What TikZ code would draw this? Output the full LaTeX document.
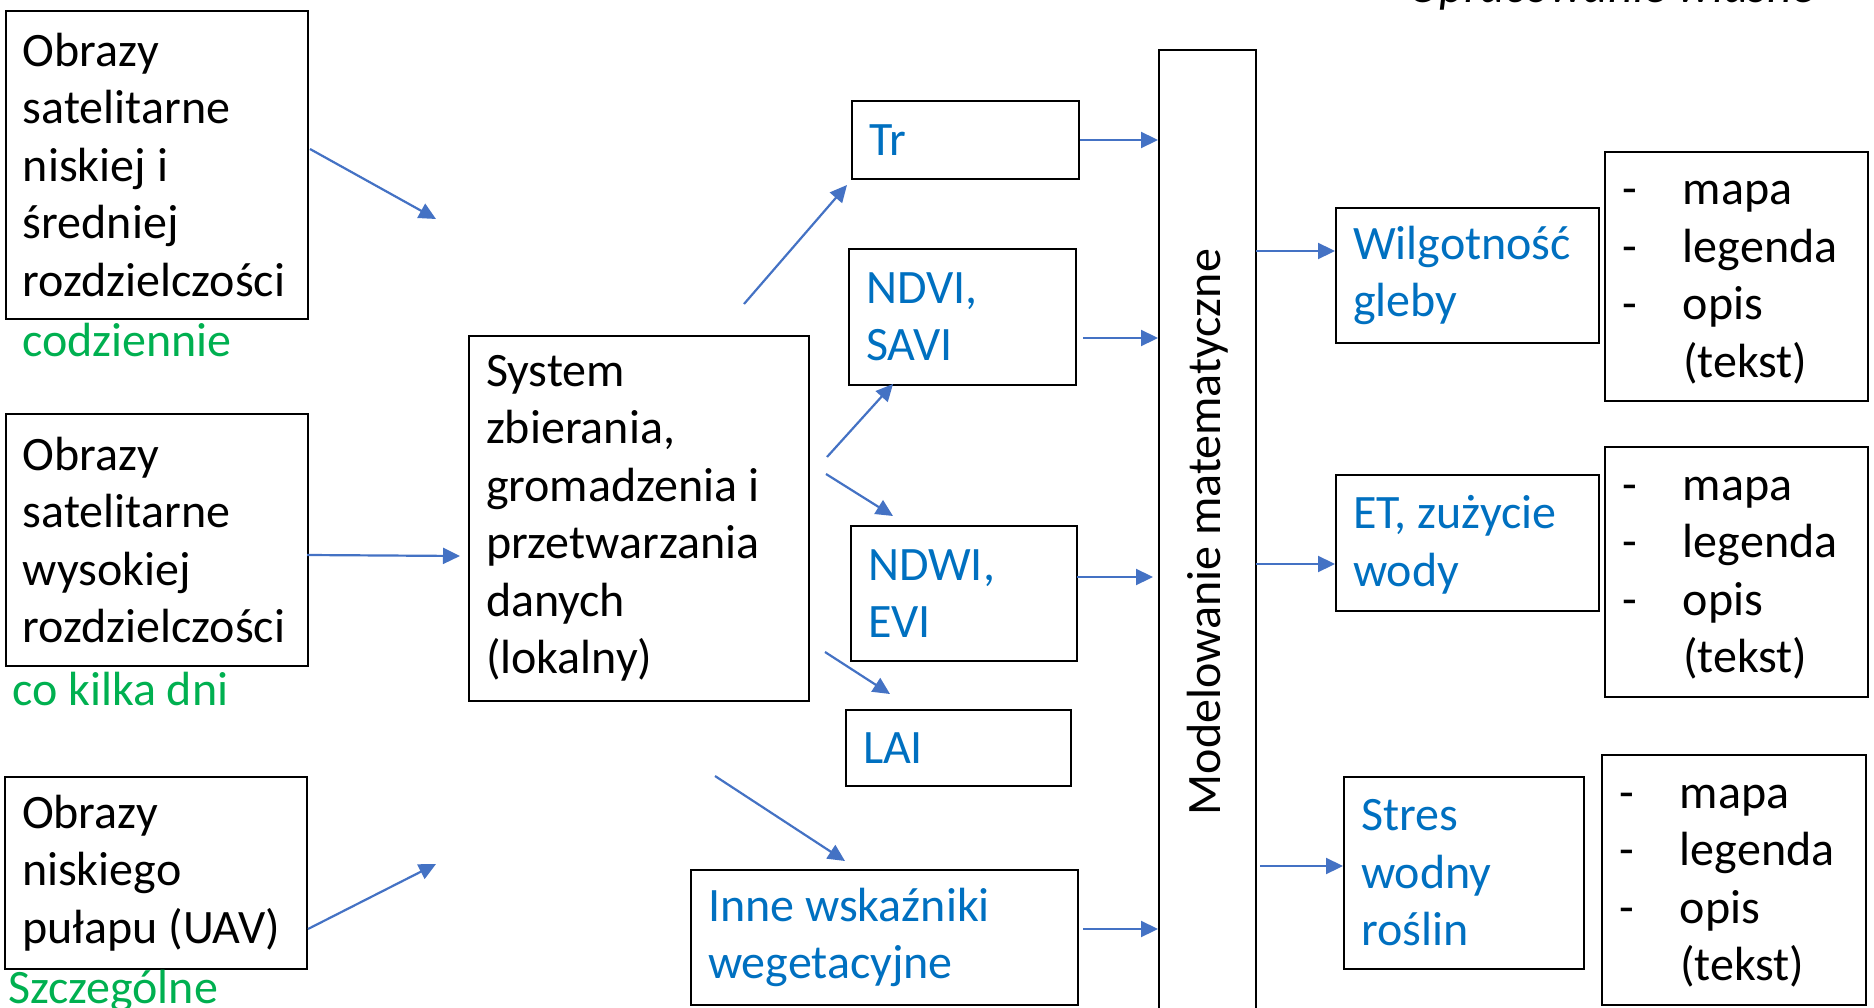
\documentclass[tikz,border=0pt]{standalone}
\usepackage{fontspec}
\setmainfont{Carlito}
\usetikzlibrary{arrows.meta}
\definecolor{txtblue}{HTML}{0070C0}
\definecolor{txtgreen}{HTML}{00B050}
\definecolor{arrblue}{HTML}{4472C4}
\newcommand{\lstitem}[1]{\makebox[61pt][l]{-}#1}
\newcommand{\lstcont}[1]{\hspace*{61pt}#1}

\begin{document}
\begin{tikzpicture}[x=1pt,y=-1pt,
    box/.style = {draw, line width=2pt, anchor=north west, align=flush left, inner xsep=17pt, inner ysep=0pt, font=\fontsize{48}{57.5}\selectfont},
    ind/.style = {box, text=txtblue},
    lst/.style = {box, text width=229pt, text height=36pt},
    note/.style = {anchor=base west, inner sep=0pt, text=txtgreen, font=\fontsize{48}{57.5}\selectfont},
    arr/.style = {-{Triangle[length=17pt,width=16pt]}, draw=arrblue, line width=2.2pt}]
    \useasboundingbox (0,0) rectangle (1874,1008);
    % sources
    \node[box, text width=268pt, minimum height=308pt] (sat1) at (5,10) {Obrazy\\satelitarne\\niskiej i\\średniej\\rozdzielczości};
    \node[box, text width=268pt, minimum height=252pt] (sat2) at (5,413) {Obrazy\\satelitarne\\wysokiej\\rozdzielczości};
    \node[box, text width=268pt, minimum height=192pt] (uav) at (4,776) {Obrazy\\niskiego\\pułapu (UAV)};
    \node[note] (n1) at (22,356) {codziennie};
    \node[note] (n2) at (12,705) {co kilka dni};
    \node[note] (n3) at (8,1003) {Szczególne};
    \node[box, text width=306pt, minimum height=365pt] (sys) at (468,335) {System\\zbierania,\\gromadzenia i\\przetwarzania\\danych\\(lokalny)};
    % indices
    \node[ind, text width=193pt, minimum height=78pt] (tr) at (851,100) {Tr};
    \node[ind, text width=193pt, minimum height=136pt] (ndvi) at (848,248) {NDVI,\\SAVI};
    \node[ind, text width=192pt, minimum height=135pt] (ndwi) at (850,525) {NDWI,\\EVI};
    \node[ind, text width=191pt, minimum height=76pt] (lai) at (845,709) {LAI};
    \node[ind, text width=353pt, minimum height=135pt] (inne) at (690,869) {Inne wskaźniki\\wegetacyjne};
    \node[box, minimum width=97pt, minimum height=964pt, inner xsep=0pt] (model) at (1158,49) {\rotatebox{90}{Modelowanie matematyczne}};
    % results
    \node[ind, text width=229pt, minimum height=135pt] (wilg) at (1335,207) {Wilgotność\\gleby};
    \node[ind, text width=229pt, minimum height=136pt, text height=37pt] (et) at (1335,474) {ET, zużycie\\wody};
    \node[ind, text width=206pt, minimum height=192pt] (stres) at (1343,776) {Stres\\wodny\\roślin};
    \node[lst, minimum height=249pt] (out1) at (1604,151) {\lstitem{mapa}\\\lstitem{legenda}\\\lstitem{opis}\\\lstcont{(tekst)}};
    \node[lst, minimum height=250pt] (out2) at (1604,446) {\lstitem{mapa}\\\lstitem{legenda}\\\lstitem{opis}\\\lstcont{(tekst)}};
    \node[lst, minimum height=250pt, text width=230pt] (out3) at (1601,754) {\lstitem{mapa}\\\lstitem{legenda}\\\lstitem{opis}\\\lstcont{(tekst)}};
    \node[anchor=base west, inner sep=0pt, font=\fontsize{48}{57.5}\selectfont\itshape] (src) at (1408,3) {Opracowanie własne};
    % free arrow ends
    \coordinate (a1) at (310,149);  \coordinate (a2) at (436,219);
    \coordinate (b1) at (307,555);  \coordinate (b2) at (460,556);
    \coordinate (c1) at (308,929);  \coordinate (c2) at (436,864);
    \coordinate (d1) at (744,304);  \coordinate (d2) at (847,185);
    \coordinate (e1) at (827,457);  \coordinate (e2) at (893,384);
    \coordinate (f1) at (826,474);  \coordinate (f2) at (893,516);
    \coordinate (g1) at (825,652);  \coordinate (g2) at (890,694);
    \coordinate (h1) at (715,776);  \coordinate (h2) at (845,861);
    \coordinate (k1) at (1083,338);
    \coordinate (k2) at (1077,577);
    \coordinate (k3) at (1083,929);
    \coordinate (m1) at (1256,251);
    \coordinate (m2) at (1256,564);
    \coordinate (m3) at (1260,866);
    \draw[arr] (a1) -- (a2);
    \draw[arr] (b1) -- (b2);
    \draw[arr] (c1) -- (c2);
    \draw[arr] (d1) -- (d2);
    \draw[arr] (e1) -- (e2);
    \draw[arr] (f1) -- (f2);
    \draw[arr] (g1) -- (g2);
    \draw[arr] (h1) -- (h2);
    \draw[arr] (tr.east) -- (tr.east -| model.west);
    \draw[arr] (k1) -- (k1 -| model.west);
    \draw[arr] (k2) -- ([xshift=-5pt]k2 -| model.west);
    \draw[arr] (k3) -- (k3 -| model.west);
    \draw[arr] (m1) -- (m1 -| wilg.west);
    \draw[arr] (m2) -- (m2 -| et.west);
    \draw[arr] (m3) -- (m3 -| stres.west);
\end{tikzpicture}
\end{document}
